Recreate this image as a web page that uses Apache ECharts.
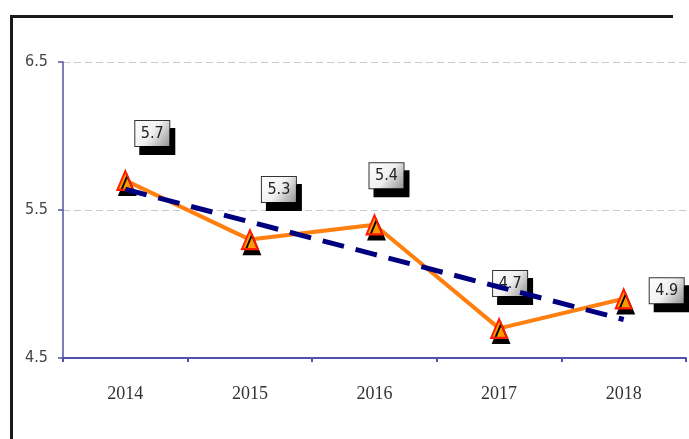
<!DOCTYPE html>
<html>
<head>
<meta charset="utf-8">
<script src="https://cdn.jsdelivr.net/npm/echarts@6/dist/echarts.min.js"></script>
<style>
  html, body { margin: 0; padding: 0; background: #fff; overflow: hidden; }
  #chart { width: 689px; height: 439px; }
  .frame {
    position: absolute; left: 10px; top: 15px; width: 660px; height: 421px;
    border-left: 3px solid #1a1a1a; border-top: 3px solid #1a1a1a;
    pointer-events: none;
  }
</style>
</head>
<body>
<div id="chart"></div>
<div class="frame"></div>
<script>
const years = ['2014', '2015', '2016', '2017', '2018']
const values = [5.7, 5.3, 5.4, 4.7, 4.9]
const trendValues = [5.64, 5.42, 5.2, 4.98, 4.76]
// label box offsets, picked by eye
const labelOffsets = [[27, -47], [29, -50], [12, -49], [11, -45], [43, -8]]

const chart = echarts.init(document.getElementById('chart'))

const boxFill = new echarts.graphic.LinearGradient(0, 0, 1, 1, [
  { offset: 0, color: '#ffffff' },
  { offset: 0.5, color: '#f0f0f0' },
  { offset: 1, color: '#8e8e8e' }
])

const option = {
  animation: false,
  backgroundColor: '#fff',
  grid: { left: 63, top: 62, right: 3, bottom: 81 },
  xAxis: {
    type: 'category',
    data: years,
    boundaryGap: true,
    axisLine: { lineStyle: { color: '#5252a8', width: 2 } },
    axisTick: { show: true, length: 4, lineStyle: { color: '#5252a8', width: 2 } },
    axisLabel: { margin: 27, color: '#333', fontSize: 18, fontFamily: 'Liberation Serif' }
  },
  yAxis: {
    type: 'value',
    min: 4.5,
    max: 6.5,
    interval: 1,
    axisLine: { show: true, lineStyle: { color: '#5252a8', width: 1.5 } },
    axisTick: { show: true, length: 5, lineStyle: { color: '#5252a8', width: 1.5 } },
    axisLabel: {
      margin: 15, color: '#444', fontSize: 16, fontFamily: 'DejaVu Sans Condensed',
      formatter: v => v.toFixed(1)
    },
    splitLine: { show: true, lineStyle: { color: '#c8c8c8', type: [7, 4], width: 1.2 } }
  },
  series: [
    {
      type: 'line',
      data: values.map((v, i) => ({
        value: v,
        label: { offset: labelOffsets[i] }
      })),
      z: 3,
      symbol: 'triangle',
      symbolSize: [16, 19],
      lineStyle: { color: '#ff7f0f', width: 4 },
      itemStyle: {
        color: '#ff9900',
        borderColor: '#ff1a00',
        borderWidth: 2,
        shadowColor: '#000',
        shadowOffsetX: 2,
        shadowOffsetY: 5,
        shadowBlur: 0
      },
      label: {
        show: true,
        position: 'inside',
        formatter: p => p.value.toFixed(1),
        color: '#222',
        fontSize: 16,
        fontFamily: 'DejaVu Sans Condensed',
        backgroundColor: boxFill,
        borderColor: '#333',
        borderWidth: 1,
        width: 24,
        align: 'center',
        padding: [5, 5, 4, 5],
        shadowColor: '#000',
        shadowOffsetX: 5,
        shadowOffsetY: 8,
        shadowBlur: 0
      }
    },
    {
      type: 'line',
      data: trendValues,
      z: 4,
      symbol: 'none',
      lineStyle: { color: '#00007f', width: 5, type: [22, 12] }
    }
  ]
}

chart.setOption(option)
</script>
</body>
</html>
